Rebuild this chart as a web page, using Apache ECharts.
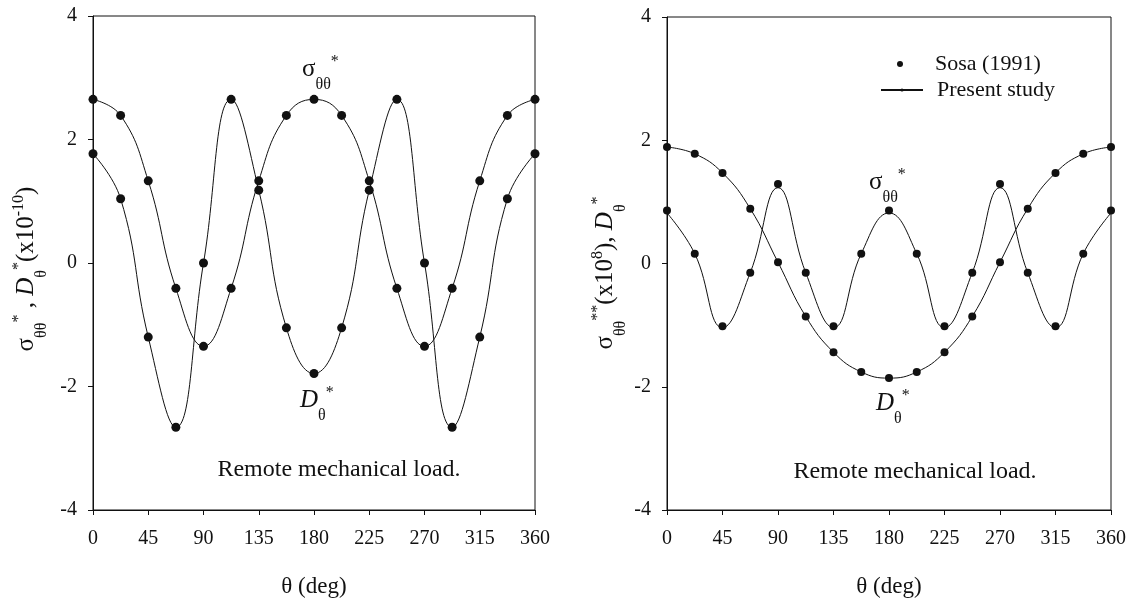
<!DOCTYPE html>
<html>
<head>
<meta charset="utf-8">
<script src="https://cdn.jsdelivr.net/npm/echarts@6.0.0/dist/echarts.min.js"></script>
<style>
  html, body { margin: 0; padding: 0; background: #fff; }
  #chart { width: 1129px; height: 603px; }
</style>
</head>
<body>
<div id="chart"></div>
<script>
// theta (deg) for every point
var angles = [0, 22.5, 45, 67.5, 90, 112.5, 135, 157.5, 180, 202.5, 225, 247.5, 270, 292.5, 315, 337.5, 360];
var xTicks = [0, 45, 90, 135, 180, 225, 270, 315, 360];
var yTicks = [-4, -2, 0, 2, 4];

// left panel
var leftSigma = [2.65, 2.39, 1.33, -0.41, -1.35, -0.41, 1.33, 2.39, 2.65, 2.39, 1.33, -0.41, -1.35, -0.41, 1.33, 2.39, 2.65];
var leftD = [1.77, 1.04, -1.2, -2.66, 0, 2.65, 1.18, -1.05, -1.79, -1.05, 1.18, 2.65, 0, -2.66, -1.2, 1.04, 1.77];

// right panel, Sosa (1991) dots
var rightSigma = [0.86, 0.16, -1.02, -0.15, 1.29, -0.15, -1.02, 0.16, 0.86, 0.16, -1.02, -0.15, 1.29, -0.15, -1.02, 0.16, 0.86];
var rightD = [1.89, 1.78, 1.47, 0.89, 0.02, -0.86, -1.44, -1.76, -1.86, -1.76, -1.44, -0.86, 0.02, 0.89, 1.47, 1.78, 1.89];
// right panel, present study line
var rightSigmaLine = [0.82, 0.16, -1.04, -0.15, 1.23, -0.15, -1.04, 0.16, 0.82, 0.16, -1.04, -0.15, 1.23, -0.15, -1.04, 0.16, 0.82];
var rightDLine = [1.89, 1.78, 1.47, 0.89, 0.02, -0.86, -1.44, -1.76, -1.86, -1.76, -1.44, -0.86, 0.02, 0.89, 1.47, 1.78, 1.89];

var FONT = 'Liberation Serif';
var INK = '#111';

function pairs(ys) {
  return angles.map(function (a, i) { return [a, ys[i]]; });
}

function xAxisFor(idx) {
  return {
    type: 'value', gridIndex: idx,
    min: xTicks[0], max: xTicks[xTicks.length - 1], interval: xTicks[1] - xTicks[0],
    axisLine: { show: true, onZero: false, lineStyle: { color: INK, width: 1 } },
    axisTick: { show: true, inside: false, length: 5, lineStyle: { color: INK } },
    axisLabel: { color: INK, fontSize: 20, fontFamily: FONT, margin: 19 },
    splitLine: { show: false },
    name: 'θ (deg)', nameLocation: 'middle', nameGap: 65,
    nameTextStyle: { color: INK, fontSize: 23, fontFamily: FONT }
  };
}

function yAxisFor(idx) {
  return {
    type: 'value', gridIndex: idx,
    min: yTicks[0], max: yTicks[yTicks.length - 1], interval: yTicks[1] - yTicks[0],
    axisLine: { show: true, onZero: false, lineStyle: { color: INK, width: 1 } },
    axisTick: { show: true, inside: false, length: 5, lineStyle: { color: INK } },
    axisLabel: { color: INK, fontSize: 20, fontFamily: FONT, margin: 16 },
    splitLine: { show: false }
  };
}

function lineSeries(idx, ys) {
  return {
    name: 'Present study', type: 'line', xAxisIndex: idx, yAxisIndex: idx,
    data: pairs(ys), smooth: 0.45, symbol: 'circle', showSymbol: false,
    lineStyle: { color: INK, width: 1 }, itemStyle: { color: INK },
    silent: true, z: 2
  };
}

function dotSeries(idx, ys, size) {
  return {
    name: 'Sosa (1991)', type: 'scatter', xAxisIndex: idx, yAxisIndex: idx,
    data: pairs(ys), symbol: 'circle', symbolSize: size,
    itemStyle: { color: INK, opacity: 1 }, silent: true, z: 3
  };
}

// sub / superscripts: small tokens pinned to the bottom / top of a tall line
var rich = {
  m: { fontFamily: FONT, fontSize: 25, lineHeight: 48, fill: INK },
  it: { fontFamily: FONT, fontSize: 25, fontStyle: 'italic', lineHeight: 48, fill: INK },
  sub: { fontFamily: FONT, fontSize: 16, verticalAlign: 'bottom', fill: INK },
  sup: { fontFamily: FONT, fontSize: 16, verticalAlign: 'top', padding: [9, 0, 0, 0], fill: INK }
};

function label(x, y, text, rot) {
  return {
    type: 'text', x: x, y: y, rotation: rot || 0, silent: true,
    style: { text: text, rich: rich, align: rot ? 'center' : 'left', verticalAlign: 'middle' }
  };
}

function plain(x, y, text) {
  return {
    type: 'text', x: x, y: y, silent: true,
    style: { text: text, fontFamily: FONT, fontSize: 24, fill: INK, align: 'center', verticalAlign: 'middle' }
  };
}

var chart = echarts.init(document.getElementById('chart'));
chart.setOption({
  animation: false,
  backgroundColor: '#fff',
  grid: [
    { left: 93, top: 16, width: 442, height: 494, show: true, borderColor: INK, borderWidth: 1, backgroundColor: 'transparent' },
    { left: 667, top: 17, width: 445, height: 494, show: true, borderColor: INK, borderWidth: 1, backgroundColor: 'transparent' }
  ],
  xAxis: [xAxisFor(0), xAxisFor(1)],
  yAxis: [yAxisFor(0), yAxisFor(1)],
  legend: [
    {
      data: [{ name: 'Sosa (1991)', icon: 'circle' }], left: 897, top: 53, padding: 0,
      itemWidth: 42, itemHeight: 6, selectedMode: false,
      textStyle: { color: INK, fontSize: 22, fontFamily: FONT, padding: [0, 0, 0, 9] }
    },
    {
      data: ['Present study'], left: 880, top: 79, padding: 0,
      itemWidth: 42, itemHeight: 4, selectedMode: false,
      textStyle: { color: INK, fontSize: 22, fontFamily: FONT, padding: [0, 0, 0, 9] }
    }
  ],
  series: [
    lineSeries(0, leftSigma), lineSeries(0, leftD),
    dotSeries(0, leftSigma, 9), dotSeries(0, leftD, 9),
    lineSeries(1, rightSigmaLine), lineSeries(1, rightDLine),
    dotSeries(1, rightSigma, 8), dotSeries(1, rightD, 8)
  ],
  graphic: [
    label(26, 269, '{m|σ}{sub|θθ}{sup|*}{m| , }{it|D}{sub|θ}{sup|*}{m|(x10}{sup|-10}{m|)}', Math.PI / 2),
    label(605, 273, '{m|σ}{sub|θθ}{sup|**}{m|(x10}{sup|8}{m|), }{it|D}{sub|θ}{sup|*}', Math.PI / 2),
    label(302, 69, '{m|σ}{sub|θθ}{sup|*}'),
    label(300, 400, '{it|D}{sub|θ}{sup|*}'),
    label(869, 182, '{m|σ}{sub|θθ}{sup|*}'),
    label(876, 403, '{it|D}{sub|θ}{sup|*}'),
    plain(339, 470, 'Remote mechanical load.'),
    plain(915, 472, 'Remote mechanical load.')
  ]
});
</script>
</body>
</html>
